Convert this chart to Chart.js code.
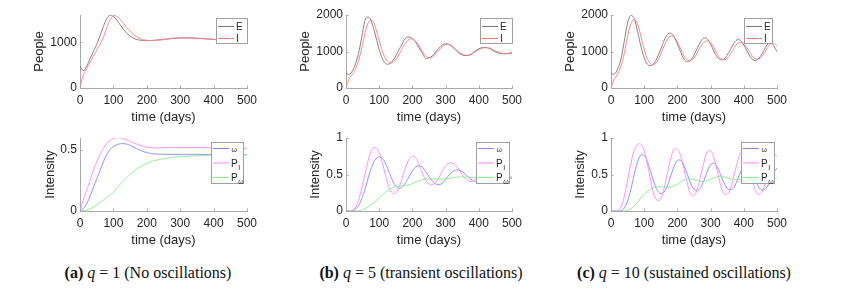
<!DOCTYPE html>
<html>
<head>
<meta charset="utf-8">
<script src="https://cdn.jsdelivr.net/npm/chart.js@4.4.0/dist/chart.umd.min.js"></script>
<style>
  body { margin: 0; background: #fff; width: 842px; height: 294px; position: relative; overflow: hidden; }
  canvas { position: absolute; }
  .cap { position: absolute; top: 265px; width: 300px; text-align: center; font-family: "Liberation Serif", serif; font-size: 16px; line-height: 16px; color: #111; white-space: nowrap; }
</style>
</head>
<body>
<canvas id="c1"></canvas><canvas id="c2"></canvas><canvas id="c3"></canvas>
<canvas id="c4"></canvas><canvas id="c5"></canvas><canvas id="c6"></canvas>
<div class="cap" style="left:-2px"><b>(a)</b> <i>q</i> = 1 (No oscillations)</div>
<div class="cap" style="left:271px"><b>(b)</b> <i>q</i> = 5 (transient oscillations)</div>
<div class="cap" style="left:534px"><b>(c)</b> <i>q</i> = 10 (sustained oscillations)</div>
<script>
// time in days
const t = [0,10,20,30,40,50,60,70,80,90,100,110,120,130,140,150,160,170,180,190,200,210,220,230,240,250,
  260,270,280,290,300,310,320,330,340,350,360,370,380,390,400,410,420,430,440,450,460,470,480,490,500];
const xTicks = [0, 100, 200, 300, 400, 500];

// q = 1
const E1 = [470,380,480,640,800,960,1150,1350,1520,1600, 1570,1490,1390,1290,1205,1140,1095,1065,1050,1042,
  1040,1042,1047,1053,1060,1068,1076,1084,1091,1096, 1100,1101,1100,1098,1095,1091,1087,1082,1077,1072,
  1066,1060,1054,1048,1042,1036,1030,1024,1018,1012, 1006];
const I1 = [0,290,430,560,700,830,960,1110,1320,1500, 1585,1575,1510,1420,1330,1250,1180,1125,1085,1060,
  1047,1042,1043,1048,1055,1063,1072,1080,1088,1094, 1099,1102,1102,1100,1097,1093,1089,1084,1079,1074,
  1068,1062,1056,1050,1044,1038,1032,1026,1020,1014, 1008];
const W1 = [0,0.02,0.06,0.12,0.19,0.26,0.33,0.40,0.46,0.50, 0.525,0.54,0.548,0.549,0.545,0.535,0.522,0.508,0.495,0.484,
  0.476,0.47,0.466,0.464,0.463,0.462,0.462,0.462,0.462,0.462, 0.462,0.462,0.462,0.462,0.462,0.462,0.461,0.461,0.461,0.461,
  0.46,0.46,0.46,0.46,0.459,0.459,0.459,0.458,0.458,0.458, 0.457];
const PI1 = [0,0.09,0.17,0.25,0.33,0.40,0.46,0.51,0.55,0.575, 0.59,0.597,0.596,0.59,0.58,0.568,0.556,0.545,0.535,0.527,
  0.521,0.517,0.515,0.514,0.514,0.515,0.516,0.517,0.518,0.518, 0.518,0.518,0.518,0.517,0.517,0.516,0.516,0.515,0.515,0.514,
  0.514,0.513,0.513,0.512,0.512,0.511,0.511,0.51,0.51,0.51, 0.509];
const PW1 = [0,0.002,0.008,0.018,0.032,0.05,0.07,0.09,0.11,0.13, 0.155,0.185,0.215,0.245,0.272,0.298,0.32,0.342,0.36,0.376,
  0.39,0.40,0.408,0.415,0.421,0.426,0.43,0.434,0.437,0.44, 0.442,0.444,0.446,0.448,0.449,0.45,0.451,0.452,0.453,0.454,
  0.455,0.455,0.456,0.456,0.457,0.457,0.458,0.458,0.459,0.459, 0.46];

// q = 5
const E2 = [400,375,480,700,1050,1520,1920,1930,1720,1400, 1050,800,665,660,740,880,1050,1220,1370,1395,
  1360,1250,1100,950,818,825,880,980,1090,1175, 1210,1195,1130,1040,960,905,890,898,950,1020,
  1075,1105,1110,1090,1040,990,955,942,940,950, 965];
const I2 = [0,260,380,550,820,1200,1600,1830,1840,1620, 1300,1000,800,700,700,780,920,1090,1240,1330,
  1340,1280,1160,1010,880,830,850,930,1030,1130, 1185,1190,1150,1070,990,930,900,900,930,990,
  1050,1090,1105,1100,1065,1015,975,950,942,945, 958];
const W2 = [0,0,0.005,0.03,0.09,0.2,0.34,0.5,0.63,0.715, 0.74,0.72,0.64,0.53,0.42,0.34,0.31,0.33,0.39,0.47,
  0.55,0.605,0.62,0.6,0.54,0.47,0.41,0.37,0.36,0.38, 0.43,0.49,0.535,0.558,0.56,0.54,0.5,0.46,0.425,0.405,
  0.40,0.41,0.435,0.465,0.49,0.5,0.5,0.49,0.47,0.455, 0.445];
const PI2 = [0,0,0.01,0.06,0.18,0.36,0.56,0.74,0.85,0.865, 0.8,0.65,0.47,0.32,0.245,0.25,0.33,0.46,0.6,0.71,
  0.75,0.73,0.64,0.52,0.42,0.37,0.36,0.39,0.46,0.55, 0.62,0.655,0.66,0.63,0.57,0.5,0.44,0.41,0.41,0.44,
  0.49,0.54,0.57,0.575,0.555,0.52,0.48,0.455,0.445,0.45, 0.465];
const PW2 = [0,0,0,0,0.005,0.02,0.04,0.07,0.1,0.14, 0.18,0.22,0.26,0.295,0.32,0.335,0.34,0.345,0.35,0.36,
  0.375,0.395,0.415,0.43,0.438,0.44,0.44,0.438,0.435,0.435, 0.44,0.448,0.456,0.462,0.466,0.467,0.465,0.462,0.46,0.46,
  0.462,0.465,0.468,0.47,0.47,0.47,0.47,0.469,0.468,0.467, 0.467];

// q = 10
const E3 = [400,380,520,800,1280,1780,1990,1900,1550,1150, 830,650,612,680,850,1070,1300,1470,1500,1400,
  1200,980,790,720,760,900,1090,1270,1370,1340, 1200,1010,850,775,790,900,1060,1220,1320,1300,
  1180,1010,850,760,770,870,1020,1180,1250,1160, 990];
const I3 = [0,250,380,600,950,1400,1760,1880,1750,1420, 1060,790,660,645,740,930,1150,1340,1420,1400,
  1270,1070,880,770,750,820,970,1130,1250,1290, 1240,1100,930,810,780,810,930,1080,1210,1250,
  1220,1100,950,830,790,820,930,1080,1200,1230, 1150];
const W3 = [0,0,0,0.005,0.04,0.14,0.3,0.5,0.67,0.765, 0.76,0.67,0.53,0.39,0.28,0.24,0.26,0.35,0.48,0.61,
  0.69,0.695,0.62,0.5,0.38,0.3,0.28,0.32,0.42,0.54, 0.635,0.655,0.6,0.5,0.39,0.31,0.29,0.32,0.42,0.53,
  0.61,0.63,0.58,0.48,0.37,0.3,0.29,0.33,0.42,0.52, 0.59];
const PI3 = [0,0,0.005,0.05,0.2,0.42,0.65,0.83,0.91,0.915, 0.83,0.64,0.41,0.22,0.145,0.17,0.31,0.52,0.72,0.85,
  0.85,0.75,0.57,0.38,0.23,0.21,0.3,0.48,0.67,0.81, 0.825,0.73,0.55,0.36,0.24,0.23,0.31,0.48,0.66,0.79,
  0.795,0.7,0.52,0.35,0.24,0.235,0.32,0.5,0.69,0.78, 0.75];
const PW3 = [0,0,0,0,0,0.01,0.03,0.07,0.12,0.18, 0.23,0.27,0.3,0.32,0.33,0.33,0.325,0.325,0.33,0.345,
  0.37,0.4,0.425,0.44,0.44,0.43,0.415,0.405,0.405,0.415, 0.435,0.455,0.468,0.472,0.468,0.455,0.44,0.43,0.43,0.44,
  0.455,0.465,0.465,0.455,0.44,0.43,0.425,0.43,0.44,0.45, 0.455];

const txt = '#262626';
const axisCol = '#a8a8a8';
const cE = '#777777', cI = '#ff7a7a', cW = '#8484ff', cPI = '#ff84ff', cPW = '#84ec84';

// draws inward ticks, axis titles and the boxed legend
const panelDeco = {
  id: 'panelDeco',
  afterDraw(chart) {
    const o = chart.options.plugins.panelDeco;
    const ctx = chart.ctx, a = chart.chartArea;
    const xs = chart.scales.x, ys = chart.scales.y;
    ctx.save();
    ctx.strokeStyle = axisCol; ctx.lineWidth = 1;
    ctx.beginPath();
    xs.ticks.forEach(tk => { const p = Math.round(xs.getPixelForValue(tk.value)) + 0.5; ctx.moveTo(p, a.bottom); ctx.lineTo(p, a.bottom - 2.5); });
    ys.ticks.forEach(tk => { const p = Math.round(ys.getPixelForValue(tk.value)) + 0.5; ctx.moveTo(a.left, p); ctx.lineTo(a.left + 2.5, p); });
    ctx.stroke();

    ctx.fillStyle = txt;
    ctx.font = '13px "Liberation Sans", Arial, sans-serif';
    ctx.textAlign = 'center'; ctx.textBaseline = 'alphabetic';
    ctx.fillText('time (days)', (a.left + a.right) / 2, a.bottom + 33);
    ctx.save();
    ctx.translate(a.left - o.yTitleGap, (a.top + a.bottom) / 2);
    ctx.rotate(-Math.PI / 2);
    ctx.textBaseline = 'middle';
    ctx.fillText(o.yTitle, 0, 0);
    ctx.restore();

    const lg = o.legend;
    const bx = a.left + lg.x, by = a.top + lg.y;
    ctx.fillStyle = '#fff';
    ctx.fillRect(bx, by, lg.w, lg.h);
    ctx.strokeStyle = '#a0a0a0';
    ctx.strokeRect(bx + 0.5, by + 0.5, lg.w, lg.h);
    lg.items.forEach((it, i) => {
      const yy = by + lg.first + i * lg.step;
      ctx.strokeStyle = it.color; ctx.lineWidth = 1;
      ctx.beginPath(); ctx.moveTo(bx + 2, yy + 0.5); ctx.lineTo(bx + 18, yy + 0.5); ctx.stroke();
      ctx.fillStyle = txt; ctx.textAlign = 'left'; ctx.textBaseline = 'alphabetic';
      let xx = bx + 20;
      if (it.main) {
        ctx.font = '10px "Liberation Sans", Arial, sans-serif';
        ctx.fillText(it.main, xx, yy + 4);
        xx += ctx.measureText(it.main).width;
      }
      if (it.sub) {
        ctx.font = '7px "Liberation Sans", Arial, sans-serif';
        ctx.fillText(it.sub, xx + 0.5, yy + (it.main ? 7 : 4));
      }
    });
    ctx.restore();
  }
};

function line(label, ys, color) {
  return {
    label, data: t.map((x, i) => ({ x, y: ys[i] })),
    borderColor: color, borderWidth: 0.9, pointRadius: 0, tension: 0.4, fill: false
  };
}

function makePanel(id, box, plot, yMax, yTicks, yTitle, yTitleGap, datasets, legend) {
  const cv = document.getElementById(id);
  cv.width = box.w; cv.height = box.h;
  cv.style.left = box.x + 'px'; cv.style.top = box.y + 'px';
  const leftW = plot.l - box.x;
  const bottomH = box.y + box.h - plot.b;
  new Chart(cv, {
    type: 'line',
    data: { datasets },
    plugins: [panelDeco],
    options: {
      responsive: false, animation: false, devicePixelRatio: 1,
      layout: { padding: { left: 0, top: plot.t - box.y, right: box.x + box.w - plot.r, bottom: 0 } },
      plugins: { legend: { display: false }, tooltip: { enabled: false },
        panelDeco: { yTitle, yTitleGap, legend } },
      scales: {
        x: {
          type: 'linear', min: 0, max: 500,
          afterBuildTicks: s => { s.ticks = xTicks.map(v => ({ value: v })); },
          afterFit: s => { s.height = bottomH; },
          grid: { display: true, drawOnChartArea: false, drawTicks: false },
          border: { display: true, color: axisCol, width: 1 },
          ticks: { color: txt, padding: 5, maxRotation: 0, autoSkip: false,
            font: { family: '"Liberation Sans", Arial, sans-serif', size: 12 }, callback: v => String(v) }
        },
        y: {
          type: 'linear', min: 0, max: yMax,
          afterBuildTicks: s => { s.ticks = yTicks.map(v => ({ value: v })); },
          afterFit: s => { s.width = leftW; },
          grid: { display: true, drawOnChartArea: false, drawTicks: false },
          border: { display: true, color: axisCol, width: 1 },
          ticks: { color: txt, padding: 3, autoSkip: false,
            font: { family: '"Liberation Sans", Arial, sans-serif', size: 12 }, callback: v => String(v) }
        }
      }
    }
  });
}

const topItems = [{ color: cE, main: 'E' }, { color: cI, main: 'I' }];
const botItems = [{ color: cW, sub: 'ω' }, { color: cPI, main: 'P', sub: 'I' }, { color: cPW, main: 'P', sub: 'ω' }];
const topLeg = (x, w) => ({ x, y: 3, w, h: 25, first: 8, step: 12, items: topItems });
const botLeg = (x, w) => ({ x, y: 4, w, h: 41, first: 6, step: 14.5, items: botItems });

makePanel('c1', { x: 0, y: 0, w: 267, h: 125 }, { l: 80, r: 247, t: 15, b: 88 }, 1603, [0, 1000], 'People', 41,
  [line('I', I1, cI), line('E', E1, cE)], topLeg(136, 31));
makePanel('c2', { x: 266, y: 0, w: 266, h: 125 }, { l: 346, r: 512, t: 15, b: 88 }, 2000, [0, 1000, 2000], 'People', 41,
  [line('I', I2, cI), line('E', E2, cE)], topLeg(134, 32));
makePanel('c3', { x: 531, y: 0, w: 266, h: 125 }, { l: 611, r: 777, t: 15, b: 88 }, 2000, [0, 1000, 2000], 'People', 41,
  [line('I', I3, cI), line('E', E3, cE)], topLeg(133, 28));

makePanel('c4', { x: 0, y: 125, w: 267, h: 125 }, { l: 80, r: 247, t: 138, b: 211 }, 0.595, [0, 0.5], 'Intensity', 30,
  [line('Pω', PW1, cPW), line('PI', PI1, cPI), line('ω', W1, cW)], botLeg(131, 32));
makePanel('c5', { x: 266, y: 125, w: 266, h: 125 }, { l: 346, r: 512, t: 138, b: 211 }, 1, [0, 0.5, 1], 'Intensity', 31,
  [line('Pω', PW2, cPW), line('PI', PI2, cPI), line('ω', W2, cW)], botLeg(130, 33));
makePanel('c6', { x: 531, y: 125, w: 266, h: 125 }, { l: 611, r: 777, t: 138, b: 211 }, 1, [0, 0.5, 1], 'Intensity', 31,
  [line('Pω', PW3, cPW), line('PI', PI3, cPI), line('ω', W3, cW)], botLeg(130, 33));
</script>
</body>
</html>
